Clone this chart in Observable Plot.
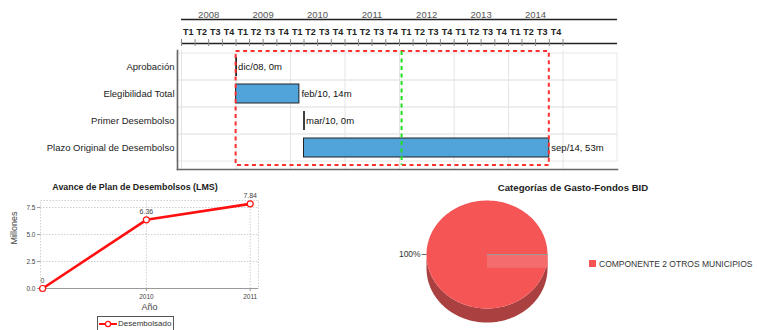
<!DOCTYPE html>
<html><head><meta charset="utf-8">
<script src="https://cdn.jsdelivr.net/npm/d3@7"></script>
<script src="https://cdn.jsdelivr.net/npm/@observablehq/plot@0.6"></script>
<style>
body{margin:0;background:#fff;}
#root{position:relative;width:757px;height:330px;overflow:hidden;font-family:"Liberation Sans",Arial,sans-serif;}
#root .layer{position:absolute;}
#root svg{overflow:visible;}
.title{position:absolute;font-weight:bold;color:#222;white-space:nowrap;transform:translateX(-50%);}
</style></head><body><div id="root"></div><script>
// ---------- Gantt data ----------
const tasks = ["Aprobación", "Elegibilidad Total", "Primer Desembolso", "Plazo Original de Desembolso"];
const taskStart = ["2008-12", "2008-12", "2010-03", "2010-03"];
const taskEnd = ["2008-12", "2010-02", "2010-03", "2014-09"];
const taskLabels = ["dic/08, 0m", "feb/10, 14m", "mar/10, 0m", "sep/14, 53m"];
const todayDate = "2012-01-15";
const axisYears = [2008, 2009, 2010, 2011, 2012, 2013, 2014];
const quarterNames = ["T1", "T2", "T3", "T4"];

// ---------- Line chart data ----------
const lineTitle = "Avance de Plan de Desembolsos (LMS)";
const lineYears = [2009, 2010, 2011];
const lineValues = [0, 6.36, 7.84];
const lineXTicks = [2010, 2011];
const lineYTicks = [0, 2.5, 5, 7.5];
const seriesName = "Desembolsado";

// ---------- Pie data ----------
const pieTitle = "Categorías de Gasto-Fondos BID";
const pieCategories = ["COMPONENTE 2 OTROS MUNICIPIOS"];
const pieValues = [100];

// ---------- helpers ----------
const monthEnd = s => { const [y, m] = s.split("-").map(Number); return new Date(Date.UTC(y, m, 1)); };
const root = document.getElementById("root");
function place(el, left, top) { el.classList.add("layer"); el.style.left = left + "px"; el.style.top = top + "px"; root.appendChild(el); return el; }
const font = '"Liberation Sans", Arial, sans-serif';

// ---------- Gantt ----------
const gDomain = [new Date(Date.UTC(2008, 0, 1)), new Date(Date.UTC(2016, 0, 1))];
const gRange = [181, 617];
const rows = tasks.map((t, i) => ({task: t, start: monthEnd(taskStart[i]), end: monthEnd(taskEnd[i]), label: taskLabels[i]}));
const bars = rows.filter(r => +r.start !== +r.end);
const miles = rows.filter(r => +r.start === +r.end);
const quarters = axisYears.flatMap(y => quarterNames.map((q, i) => ({name: q, start: new Date(Date.UTC(y, i * 3, 1)), mid: new Date(Date.UTC(y, i * 3 + 1, 15))})));
const tickDates = quarters.map(q => q.start).concat([new Date(Date.UTC(axisYears[axisYears.length - 1] + 1, 0, 1))]);
const yearStarts = d3.range(2008, 2016).map(y => new Date(Date.UTC(y, 0, 1)));
const hdr = {yearLabel: 14, yearLine: 19, quarterLabel: 32, tickLine: 43, tickTop: 39, tickBottom: 46};

const header = Plot.plot({
  width: 757, height: 50, margin: 0,
  style: {fontFamily: font, background: "transparent"},
  x: {type: "utc", domain: gDomain, range: gRange, axis: null},
  y: {domain: [0, 50], range: [0, 50], axis: null},
  marks: [
    Plot.ruleY([hdr.yearLine], {y: d => d, x1: () => gDomain[0], x2: () => gDomain[1], stroke: "#222", strokeWidth: 1.3}),
    Plot.ruleY([hdr.tickLine], {y: d => d, x1: () => gDomain[0], x2: () => gDomain[1], stroke: "#222", strokeWidth: 1.3}),
    Plot.ruleX(tickDates, {x: d => d, y1: () => hdr.tickTop, y2: () => hdr.tickBottom, stroke: "#888", strokeWidth: 1}),
    Plot.text(axisYears, {x: y => new Date(Date.UTC(y, 6, 1)), y: () => hdr.yearLabel, text: y => String(y), fill: "#555", fontSize: 9.5}),
    Plot.text(quarters, {x: "mid", y: () => hdr.quarterLabel, text: "name", fill: "#222", fontSize: 9, fontWeight: "bold"})
  ]
});

const gantt = Plot.plot({
  width: 757, height: 175, marginTop: 50, marginBottom: 6, marginLeft: 177, marginRight: 140,
  style: {fontFamily: font, background: "transparent", fontSize: "9.5px"},
  x: {type: "utc", domain: gDomain, range: gRange, axis: null},
  y: {domain: tasks, range: [52, 161], padding: 0, axis: null},
  marks: [
    Plot.cell(tasks, {y: d => d, fill: "none", stroke: "#e8e8e8"}),
    Plot.ruleX(yearStarts, {x: d => d, stroke: "#e4e4e4"}),
    Plot.frame({anchor: "left", stroke: "#666", strokeWidth: 1.6}),
    Plot.frame({anchor: "bottom", stroke: "#666", strokeWidth: 1.6}),
    Plot.barX(bars, {y: "task", x1: "start", x2: "end", fill: "#50a4da", stroke: "#222", strokeWidth: 1, insetTop: 4, insetBottom: 4}),
    Plot.tickX(miles, {y: "task", x: "end", stroke: "#000", strokeWidth: 1.5, insetTop: 4, insetBottom: 4}),
    Plot.text(rows, {y: "task", x: "end", text: "label", textAnchor: "start", dx: 2, fill: "#111"}),
    Plot.text(tasks, {y: d => d, frameAnchor: "left", textAnchor: "end", dx: -3, text: d => d, fill: "#222"}),
    Plot.rect([rows], {x1: d => d[0].end, x2: d => d[d.length - 1].end, fill: "none", stroke: "#ff3030", strokeWidth: 2, strokeDasharray: "4,3.5", insetTop: 1, insetBottom: 4}),
    Plot.ruleX([new Date(todayDate)], {x: d => d, stroke: "#22dd22", strokeWidth: 2, strokeDasharray: "4,3.5", insetTop: 1, insetBottom: 4})
  ]
});
place(gantt, 0, 0);
place(header, 0, 0);

// ---------- Line chart ----------
const pts = lineYears.map((y, i) => ({year: y, value: lineValues[i]}));
const lineChart = Plot.plot({
  width: 270, height: 150, marginLeft: 40, marginRight: 12, marginTop: 20, marginBottom: 42,
  style: {fontFamily: font, background: "transparent", fontSize: "7px"},
  x: {domain: [2008.98, 2011.08], axis: null},
  y: {domain: [0, 8.15], axis: null},
  marks: [
    Plot.frame({stroke: "#d0d0d0", strokeDasharray: "1.5,1.5"}),
    Plot.gridY(lineYTicks, {stroke: "#cfcfcf", strokeOpacity: 1, strokeDasharray: "1.5,1.5"}),
    Plot.gridX(lineXTicks, {stroke: "#cfcfcf", strokeOpacity: 1, strokeDasharray: "1.5,1.5"}),
    Plot.ruleY([0], {stroke: "#999"}),
    Plot.axisY(lineYTicks, {tickSize: 3, tickPadding: 2, tickFormat: d3.format(".1f"), fill: "#444", stroke: "#999", label: null, fontSize: 6.5}),
    Plot.axisX(lineXTicks, {tickSize: 3, tickPadding: 3, tickFormat: d => String(d), fill: "#444", stroke: "#999", label: null, fontSize: 6.5}),
    Plot.text(["Millones"], {frameAnchor: "left", dx: -26, rotate: -90, text: d => d, fontSize: 9, fill: "#444"}),
    Plot.text(["Año"], {frameAnchor: "bottom", dy: 21, text: d => d, fontSize: 9, fill: "#444"}),
    Plot.line(pts, {x: "year", y: "value", stroke: "#ff1010", strokeWidth: 2.6}),
    Plot.dot(pts, {x: "year", y: "value", r: 3, fill: "#fff", stroke: "#ff1010", strokeWidth: 1.2}),
    Plot.text(pts, {x: "year", y: "value", text: d => String(d.value), dy: -8, fontSize: 7, fill: "#444"})
  ]
});
place(lineChart, 0, 180);
const lt = document.createElement("div");
lt.className = "title"; lt.textContent = lineTitle; lt.style.left = "135px"; lt.style.top = "182px"; lt.style.fontSize = "8.9px";
root.appendChild(lt);
const lg = document.createElement("div");
lg.innerHTML = `<svg width="18" height="8" style="vertical-align:middle;margin-right:1px"><line x1="0" y1="4" x2="18" y2="4" stroke="#ff1010" stroke-width="2"/><circle cx="9" cy="4" r="2.6" fill="#fff" stroke="#ff1010" stroke-width="1.2"/></svg><span style="vertical-align:middle">${seriesName}</span>`;
lg.style.cssText = "border:1px solid #555;font-size:8px;color:#333;padding:1px 2px 1px 1px;white-space:nowrap;line-height:11px;";
place(lg, 97, 316);

// ---------- Pie ----------
const pieDepth = 0.26;
const arcs = d3.pie().sort(null).startAngle(Math.PI / 2).endAngle(Math.PI / 2 + 2 * Math.PI)(pieValues);
const N = 180;
const topPts = [], sidePts = [], cutPts = [], seamPts = [];
arcs.forEach((a, k) => {
  const poly = [{x: 0, y: 0, k}];
  for (let i = 0; i <= N; i++) { const p = a.startAngle + (a.endAngle - a.startAngle) * i / N; poly.push({x: Math.sin(p), y: Math.cos(p), k}); }
  poly.push({x: 0, y: 0, k});
  topPts.push(...poly);
  const front = [];
  for (let i = 0; i <= N; i++) { const t = Math.PI + Math.PI * i / N; front.push({x: Math.cos(t), y: Math.sin(t)}); }
  sidePts.push(...front.map(p => ({...p, k})), ...front.slice().reverse().map(p => ({x: p.x, y: p.y - pieDepth, k})));
  const ex = Math.sin(a.startAngle), ey = Math.cos(a.startAngle);
  cutPts.push({x: 0, y: 0, k}, {x: ex, y: ey, k}, {x: ex, y: ey - pieDepth * 0.95, k}, {x: 0, y: -pieDepth * 0.95, k});
  seamPts.push({x: 0, y: 0, k}, {x: ex, y: ey, k});
});
const pieLabelData = arcs.map((a, k) => ({label: Math.round(100 * pieValues[k] / d3.sum(pieValues)) + "%"}));
const pie = Plot.plot({
  width: 377, height: 150, margin: 0,
  style: {fontFamily: font, background: "transparent"},
  x: {domain: [-1, 1], range: [46, 167], axis: null},
  y: {domain: [-1, 1], range: [128, 20], axis: null},
  marks: [
    Plot.line(sidePts, {x: "x", y: "y", z: "k", fill: "#aa4040", stroke: "none", curve: "linear"}),
    Plot.line(topPts, {x: "x", y: "y", z: "k", fill: "#f55555", stroke: "none", curve: "linear"}),
    Plot.line(cutPts, {x: "x", y: "y", z: "k", fill: "#f46c6c", stroke: "none", curve: "linear"}),
    Plot.line(seamPts, {x: "x", y: "y", z: "k", stroke: "#999", strokeWidth: 1}),
    Plot.link(pieLabelData, {x1: () => -1, y1: () => 0, x2: () => -1.08, y2: () => 0, stroke: "#666", strokeWidth: 1}),
    Plot.text(pieLabelData, {x: () => -1.08, y: () => 0, text: "label", textAnchor: "end", dx: -1, fontSize: 8.5, fill: "#333"})
  ]
});
place(pie, 380, 180);
const pt = document.createElement("div");
pt.className = "title"; pt.textContent = pieTitle; pt.style.left = "573px"; pt.style.top = "182px"; pt.style.fontSize = "9.6px";
root.appendChild(pt);
const pl = document.createElement("div");
pl.innerHTML = pieCategories.map(c => `<span style="display:inline-block;width:7px;height:7px;background:#f55555;margin-right:3px;vertical-align:middle"></span><span style="vertical-align:middle">${c}</span>`).join("");
pl.style.cssText = "font-size:8.5px;color:#333;white-space:nowrap;line-height:10px;";
place(pl, 589, 258);
</script></body></html>
